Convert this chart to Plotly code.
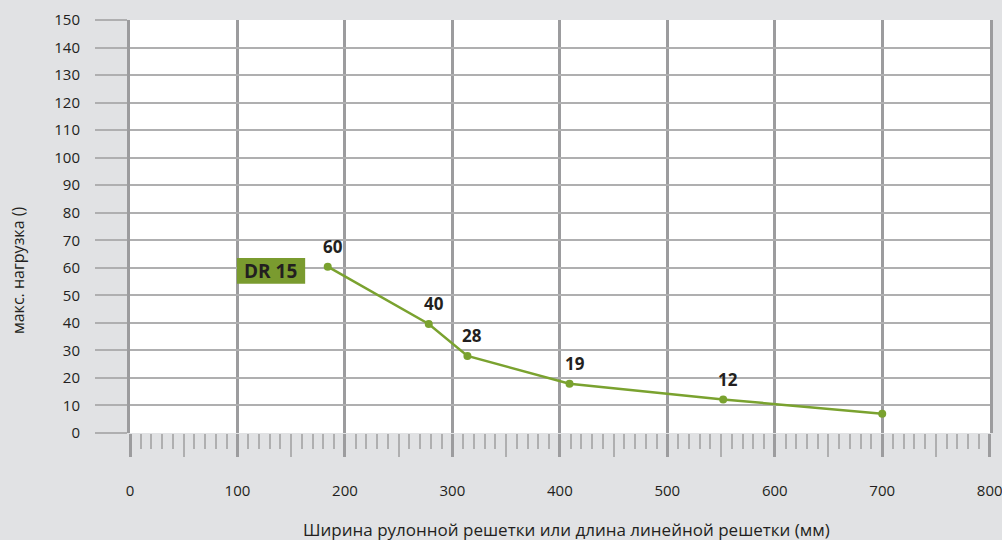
import plotly.graph_objects as go

# data
widths = [184, 278, 314, 409, 552, 700]
loads = [60.4, 39.6, 28, 17.9, 12.2, 7.0]
point_labels = ["60", "40", "28", "19", "12", ""]
x_ticks = [0, 100, 200, 300, 400, 500, 600, 700, 800]
x_half_ticks = [50, 150, 250, 350, 450, 550, 650, 750]
y_ticks = list(range(0, 151, 10))
series_name = "DR 15"
x_title = "Ширина рулонной решетки или длина линейной решетки (мм)"
y_title = "макс. нагрузка ()"

GREEN = "#7aa22f"
BOX_GREEN = "#7a9b2f"
BG = "#e1e2e4"
VGRID = "#9c9c9e"
HGRID = "#afafb0"
FONT = "Open Sans"
TXT = "#231f20"

fig = go.Figure()
fig.add_trace(go.Scatter(
    x=widths, y=loads, mode="lines+markers",
    line=dict(color=GREEN, width=2.5),
    marker=dict(color=GREEN, size=8),
    showlegend=False, hoverinfo="skip"))
# dummy trace for half ticks axis
fig.add_trace(go.Scatter(x=[0, 800], y=[None, None], xaxis="x2", showlegend=False))

for xv, yv, lab in zip(widths, loads, point_labels):
    if lab:
        fig.add_annotation(x=xv, y=yv, text=f"<b>{lab}</b>", showarrow=False,
                           xshift=5, yshift=20,
                           font=dict(family=FONT, size=17, color=TXT))

# DR 15 label box
fig.add_shape(type="rect", xref="x", yref="y", x0=99.5, x1=163, y0=54.2, y1=63.6,
              fillcolor=BOX_GREEN, line=dict(width=0), layer="above")
fig.add_annotation(x=131, y=58.9, text=f"<b>{series_name}</b>", showarrow=False,
                   font=dict(family=FONT, size=19, color=TXT))

# axis titles
fig.add_annotation(xref="paper", yref="paper", x=(18 - 130) / 860, y=(433 - 271) / 413,
                   xanchor="center", yanchor="middle",
                   text=y_title, textangle=-90, showarrow=False,
                   font=dict(family=FONT, size=16, color=TXT))
fig.add_annotation(xref="paper", yref="paper", x=(566 - 130) / 860, y=(433 - 529) / 413,
                   xanchor="center", yanchor="middle",
                   text=x_title, showarrow=False,
                   font=dict(family=FONT, size=17, color=TXT))

fig.update_layout(
    width=1002, height=540,
    margin=dict(l=130, r=12, t=20, b=107, autoexpand=False),
    paper_bgcolor=BG, plot_bgcolor="white",
    font=dict(family=FONT, size=15, color=TXT),
    xaxis=dict(range=[0, 800.3], tickvals=x_ticks, showgrid=True, gridcolor=VGRID, gridwidth=3,
               ticks="outside", ticklen=23, tickwidth=3, tickcolor=VGRID,
               minor=dict(dtick=10, ticks="outside", ticklen=15, tickwidth=1.5, tickcolor=HGRID, showgrid=False),
               ticklabelstandoff=21, zeroline=False, showline=False, automargin=False,
               ticklabeloverflow="allow",
               tickfont=dict(family=FONT, size=15, color=TXT)),
    xaxis2=dict(range=[0, 800.3], overlaying="x", anchor="y", side="bottom",
                tickvals=x_half_ticks, showticklabels=False, showgrid=False, automargin=False,
                ticks="outside", ticklen=23, tickwidth=1.5, tickcolor=HGRID, zeroline=False),
    yaxis=dict(range=[0, 150], tickvals=y_ticks, showgrid=True, gridcolor=HGRID, gridwidth=2,
               ticks="outside", ticklen=32, tickwidth=2, tickcolor=HGRID,
               ticklabelstandoff=12, zeroline=False, automargin=False,
               showline=True, mirror=True, linecolor=VGRID, linewidth=3,
               tickfont=dict(family=FONT, size=15, color=TXT)),
)

fig.write_html("out.html", config={"displayModeBar": False},
               post_script="document.body.style.margin='0';")
